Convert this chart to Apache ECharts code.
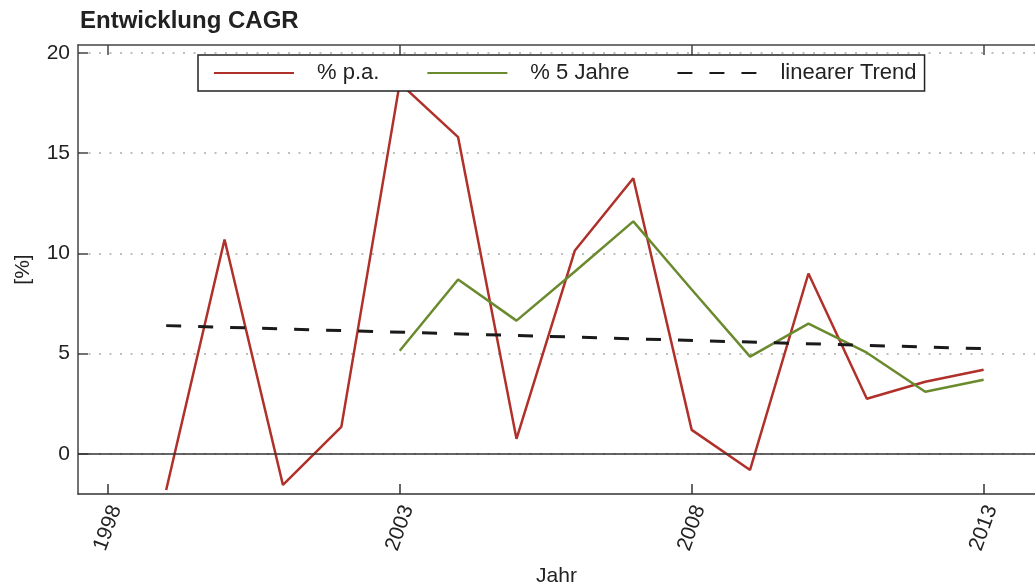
<!DOCTYPE html>
<html>
<head>
<meta charset="utf-8">
<script src="https://cdn.jsdelivr.net/npm/echarts@6/dist/echarts.min.js"></script>
<style>
  html, body { margin: 0; padding: 0; background: #fff; }
  #main { width: 1035px; height: 588px; }
</style>
</head>
<body>
<div id="main"></div>
<script>
var dom = document.getElementById("main");
var myChart = echarts.init(dom);
var FONT = '"Liberation Sans", Arial, sans-serif';

// Daten
var years = [1999, 2000, 2001, 2002, 2003, 2004, 2005, 2006, 2007, 2008, 2009, 2010, 2011, 2012, 2013];
var proJahr = [-1.8, 10.7, -1.55, 1.35, 18.5, 15.8, 0.75, 10.15, 13.75, 1.2, -0.8, 9.0, 2.75, 3.6, 4.2];
var years5 = [2003, 2004, 2005, 2006, 2007, 2008, 2009, 2010, 2011, 2012, 2013];
var fuenfJahre = [5.15, 8.7, 6.65, 9.1, 11.6, 8.2, 4.85, 6.5, 5.05, 3.1, 3.7];
var trendYears = [1999, 2013];
var trendValues = [6.4, 5.25];
var xTicks = [1998, 2003, 2008, 2013];
var yTicks = [0, 5, 10, 15, 20];

function pairs(xs, ys) {
    var out = [];
    for (var i = 0; i < xs.length; i++) out.push([xs[i], ys[i]]);
    return out;
}

var option = {
    animation: false,
    title: {
        text: 'Entwicklung CAGR',
        left: 80,
        top: 9,
        padding: 0,
        textStyle: { fontFamily: FONT, fontSize: 24, fontWeight: 'bold', color: '#222' }
    },
    legend: {
        left: 198,
        top: 55,
        padding: [7, 8, 7, 15],
        itemWidth: 80,
        itemHeight: 20,
        itemGap: 47,
        backgroundColor: '#fff',
        borderColor: '#222',
        borderWidth: 1.5,
        borderRadius: 0,
        z: 10,
        itemStyle: { opacity: 0 },
        textStyle: { fontFamily: FONT, fontSize: 22, color: '#222', padding: [0, 0, 0, 18] },
        data: ['% p.a.', '% 5 Jahre', 'linearer Trend']
    },
    // Raster fest positionieren (v6 schiebt sonst wegen Achsentexten)
    grid: { left: 78, top: 45, right: 0, bottom: 94, containLabel: false, outerBoundsMode: 'none' },
    xAxis: [{
        type: 'value',
        min: 1997.49,
        max: 2013.88,
        name: 'Jahr',
        nameLocation: 'middle',
        nameGap: 72,
        nameTextStyle: { fontFamily: FONT, fontSize: 21, color: '#222' },
        axisLine: { show: true, onZero: false, lineStyle: { color: '#333', width: 1.5 } },
        axisTick: { show: true, inside: true, length: 10, customValues: xTicks, lineStyle: { color: '#333', width: 1.5 } },
        axisLabel: {
            customValues: xTicks,
            rotate: 70,
            align: 'center',
            verticalAlign: 'middle',
            margin: 34,
            fontFamily: FONT, fontSize: 21, color: '#222',
            formatter: function (v) { return String(v); }
        },
        splitLine: { show: false }
    }, {
        type: 'value',
        position: 'top',
        min: 1997.49,
        max: 2013.88,
        axisLine: { show: true, onZero: false, lineStyle: { color: '#444', width: 1.5 } },
        axisTick: { show: true, inside: true, length: 10, customValues: xTicks, lineStyle: { color: '#444', width: 1.5 } },
        axisLabel: { show: false },
        splitLine: { show: false }
    }],
    yAxis: {
        type: 'value',
        min: -2,
        max: 20.4,
        name: '[%]',
        nameLocation: 'middle',
        nameGap: 44,
        nameRotate: 90,
        nameTextStyle: { fontFamily: FONT, fontSize: 21, color: '#222' },
        axisLine: { show: true, onZero: false, lineStyle: { color: '#444', width: 1.5 } },
        axisTick: { show: true, inside: true, length: 10, customValues: yTicks, lineStyle: { color: '#444', width: 1.5 } },
        axisLabel: { customValues: yTicks, margin: 8, fontFamily: FONT, fontSize: 21, color: '#222' },
        splitLine: { show: true, lineStyle: { color: '#aaa', width: 1.5, type: [2, 8.5] } }
    },
    series: [{
        name: '% p.a.',
        type: 'line',
        symbol: 'none',
        data: pairs(years, proJahr),
        lineStyle: { color: '#b0302a', width: 2.5 },
        itemStyle: { color: '#b0302a' },
        markLine: {
            silent: true,
            symbol: 'none',
            label: { show: false },
            lineStyle: { color: '#333', width: 1.5, type: 'solid' },
            data: [{ yAxis: 0 }]
        }
    }, {
        name: '% 5 Jahre',
        type: 'line',
        symbol: 'none',
        data: pairs(years5, fuenfJahre),
        lineStyle: { color: '#6a8a2e', width: 2.5 },
        itemStyle: { color: '#6a8a2e' }
    }, {
        name: 'linearer Trend',
        type: 'line',
        symbol: 'none',
        data: pairs(trendYears, trendValues),
        lineStyle: { color: '#1a1a1a', width: 3, type: [15, 17] },
        itemStyle: { color: '#1a1a1a' }
    }]
};

if (option && typeof option === "object") {
    myChart.setOption(option, true);
}
</script>
</body>
</html>
